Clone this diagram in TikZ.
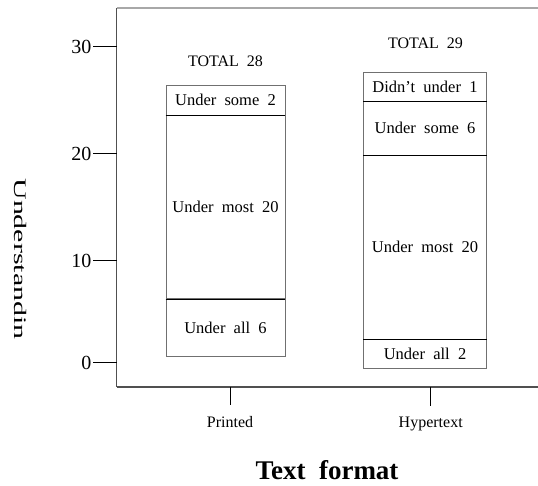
\documentclass[tikz,border=0pt]{standalone}
\usepackage{fontspec}
\setmainfont{Liberation Serif}
\definecolor{framelight}{HTML}{A8A8A8}
\definecolor{framedark}{HTML}{505050}
\definecolor{barline}{HTML}{707070}
\begin{document}
\begin{tikzpicture}[x=1pt,y=-1pt,
  seg/.style={draw=barline,line width=0.9pt,inner sep=0pt,font=\fontsize{16.5}{18}\selectfont},
  divider/.style={black,line width=0.9pt},
  ticklab/.style={font=\fontsize{20}{22}\selectfont,inner sep=0pt},
  axtick/.style={black,line width=1pt},
  cat/.style={font=\fontsize{16}{18}\selectfont,inner sep=0pt},
  total/.style={font=\fontsize{16}{18}\selectfont,inner sep=0pt}]
\useasboundingbox (0,0) rectangle (538,485);
% frame
\coordinate (ftl) at (116.5,8);
\coordinate (fbl) at (116.5,387);
\coordinate (ftr) at (538,8);
\coordinate (fbr) at (538,387);
\draw[framelight,line width=1.3pt] (ftl) -- (ftr);
\draw[framedark,line width=1.3pt] (fbl) -- (fbr);
\draw[framedark,line width=1.1pt] (ftl) -- (fbl);
% y ticks
\foreach \v/\yy in {30/46,20/153,10/260,0/362}{
  \coordinate (yt\v) at (116.5,\yy);
  \coordinate (ys\v) at (93,\yy);
  \draw[axtick] (ys\v) -- (yt\v);
  \node[ticklab,anchor=east] (yl\v) at (91.5,\yy+1) {\v};
}
% left bar
\node[seg,minimum width=119pt,minimum height=30pt] (l1) at (225.5,100) {Under\ \ some\ \ 2};
\node[seg,minimum width=119pt,minimum height=183.7pt] (l2) at (225.5,206.85) {Under\ \ most\ \ 20};
\node[seg,minimum width=119pt,minimum height=57.6pt] (l3) at (225.5,327.5) {Under\ \ all\ \ 6};
\draw[divider] (l1.south west) -- (l1.south east);
\draw[divider] (l2.south west) -- (l2.south east);
% right bar
\node[seg,minimum width=123pt,minimum height=29pt] (r1) at (425,86.5) {Didn't\ \ under\ \ 1};
\node[seg,minimum width=123pt,minimum height=54.3pt] (r2) at (425,128.15) {Under\ \ some\ \ 6};
\node[seg,minimum width=123pt,minimum height=184pt] (r3) at (425,247.3) {Under\ \ most\ \ 20};
\node[seg,minimum width=123pt,minimum height=29pt] (r4) at (425,353.8) {Under\ \ all\ \ 2};
\draw[divider] (r1.south west) -- (r1.south east);
\draw[divider] (r2.south west) -- (r2.south east);
\draw[divider] (r3.south west) -- (r3.south east);
% totals
\node[total] (t28) at (225.5,61) {TOTAL\ \ 28};
\node[total] (t29) at (425.5,43.5) {TOTAL\ \ 29};
% x ticks
\coordinate (xa1) at (230,387);
\coordinate (xb1) at (230,404.5);
\coordinate (xa2) at (430.7,387);
\coordinate (xb2) at (430.7,405.5);
\draw[axtick] (xa1) -- (xb1);
\draw[axtick] (xa2) -- (xb2);
\node[cat] (cp) at (230,422) {Printed};
\node[cat] (ch) at (430.7,424) {Hypertext};
% axis titles
\node[inner sep=0pt,font=\bfseries\fontsize{27}{30}\selectfont] (xt) at (327,470.5) {Text\ \ format};
\node[inner sep=0pt] (yt) at (21,259) {\rotatebox{-90}{\scalebox{1.7}[1]{\fontsize{17.6}{20}\selectfont Understandin}}};
\end{tikzpicture}
\end{document}
